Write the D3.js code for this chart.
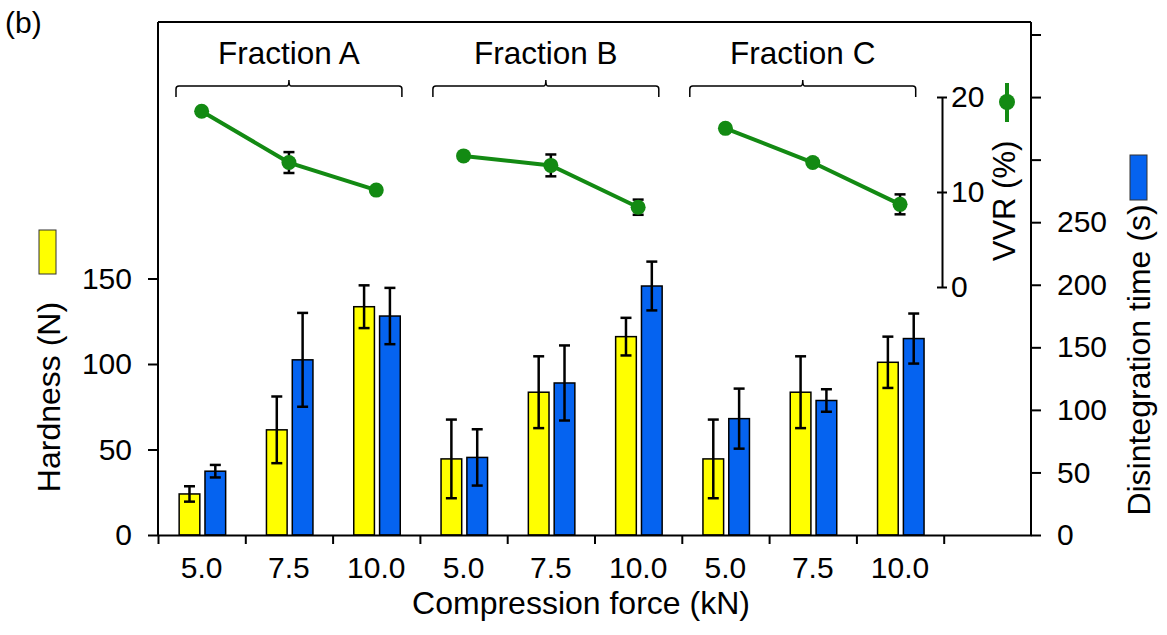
<!DOCTYPE html>
<html>
<head>
<meta charset="utf-8">
<script src="https://cdn.jsdelivr.net/npm/d3@7"></script>
<style>
  body { margin: 0; background: #fff; }
  svg text { font-family: 'Liberation Sans', Arial, sans-serif; fill: #000; }
  .axis path, .axis line { stroke: #000; stroke-width: 2px; }
</style>
</head>
<body>
<div id="chart"></div>
<script>
// data
const forceLabels = ['5.0', '7.5', '10.0', '5.0', '7.5', '10.0', '5.0', '7.5', '10.0'];
const fractions = ['Fraction A', 'Fraction B', 'Fraction C'];
const hardness = [24, 61.5, 133.5, 44.5, 83.5, 116, 44.5, 83.5, 101];
const hardnessErr = [4.5, 19.5, 12.5, 23, 21, 11, 23, 21, 15];
const disintegration = [51, 140, 175, 62, 121.5, 199, 93, 107.5, 157];
const disintegrationErr = [5, 37.5, 22.5, 22.5, 30, 19.5, 24, 9, 20];
const vvr = [18.5, 13.1, 10.2, 13.8, 12.8, 8.4, 16.7, 13.1, 8.7];
const vvrErr = [0.3, 1.1, 0.3, 0.3, 1.15, 0.8, 0.3, 0.3, 1.05];
const hardnessTicks = [0, 50, 100, 150];
const disTicks = [0, 50, 100, 150, 200, 250, 300, 350, 400];
const vvrTicks = [0, 10, 20];

const W = 1167, H = 635;
const plotL = 158, plotR = 1031, plotT = 22, plotB = 535;
const YELLOW = '#ffff00', BLUE = '#0563f0', GREEN = '#138a13';

const svg = d3.select('#chart').append('svg')
  .attr('width', W).attr('height', H);

// 9 categories + one empty slot at the end
const x = d3.scaleBand().domain(d3.range(10)).range([plotL, plotR]);
const xEdge = d3.scaleLinear().domain([0, 10]).range([plotL, plotR]);
const sub = d3.scaleBand().domain(['h', 'd']).range([-22.5, 24]).paddingInner(0.2);
const yL = d3.scaleLinear().domain([0, 300]).range([plotB, plotT]);
const yR = d3.scaleLinear().domain([0, 410]).range([plotB, plotT]);
const yV = d3.scaleLinear().domain([0, 20]).range([287, 97]);
const cx = i => x(i) + x.bandwidth() / 2;

// frame top
svg.append('line').attr('x1', plotL).attr('x2', plotR).attr('y1', plotT).attr('y2', plotT)
  .attr('stroke', '#000').attr('stroke-width', 2);

// bars
const bars = svg.append('g');
forceLabels.forEach((_, i) => {
  bars.append('rect')
    .attr('x', cx(i) + sub('h')).attr('width', sub.bandwidth())
    .attr('y', yL(hardness[i])).attr('height', plotB - yL(hardness[i]))
    .attr('fill', YELLOW).attr('stroke', '#000').attr('stroke-width', 1.5);
  bars.append('rect')
    .attr('x', cx(i) + sub('d')).attr('width', sub.bandwidth())
    .attr('y', yR(disintegration[i])).attr('height', plotB - yR(disintegration[i]))
    .attr('fill', BLUE).attr('stroke', '#000').attr('stroke-width', 1.5);
});

// error bars
function errBar(g, xc, y1, y2, cap, color, w) {
  g.append('line').attr('x1', xc).attr('x2', xc).attr('y1', y1).attr('y2', y2)
    .attr('stroke', color).attr('stroke-width', w);
  [y1, y2].forEach(yy => g.append('line')
    .attr('x1', xc - cap).attr('x2', xc + cap).attr('y1', yy).attr('y2', yy)
    .attr('stroke', color).attr('stroke-width', w));
}
const errs = svg.append('g');
forceLabels.forEach((_, i) => {
  const xh = cx(i) + sub('h') + sub.bandwidth() / 2;
  const xd = cx(i) + sub('d') + sub.bandwidth() / 2;
  errBar(errs, xh, yL(hardness[i] + hardnessErr[i]), yL(hardness[i] - hardnessErr[i]), 5.5, '#000', 2.5);
  errBar(errs, xd, yR(disintegration[i] + disintegrationErr[i]), yR(disintegration[i] - disintegrationErr[i]), 5.5, '#000', 2.5);
});

// left axis
const axL = svg.append('g').attr('class', 'axis')
  .attr('transform', `translate(${plotL},0)`)
  .call(d3.axisLeft(yL).tickValues(hardnessTicks).tickSize(10).tickPadding(16).tickSizeOuter(0));
axL.select('.domain').attr('d', `M0,${plotB}V${plotT}`);
axL.selectAll('text').style('font-size', '30px');

// right axis
const axR = svg.append('g').attr('class', 'axis')
  .attr('transform', `translate(${plotR},0)`)
  .call(d3.axisRight(yR).tickValues(disTicks).tickSize(10).tickPadding(16).tickSizeOuter(0)
    .tickFormat(d => (d <= 250 ? d : '')));
axR.select('.domain').attr('d', `M0,${plotB}V${plotT}`);
axR.selectAll('text').style('font-size', '30px');
axR.selectAll('.tick line').filter(d => d > 250).attr('stroke-width', 1.2);

// bottom axis (ticks at category edges)
const axB = svg.append('g').attr('class', 'axis')
  .attr('transform', `translate(0,${plotB})`)
  .call(d3.axisBottom(xEdge).tickValues(d3.range(11)).tickSize(9).tickFormat('').tickSizeOuter(0));
axB.selectAll('.tick').filter(d => d === 10).remove();

svg.append('g').selectAll('text').data(forceLabels).join('text')
  .attr('x', (d, i) => cx(i)).attr('y', 578)
  .attr('text-anchor', 'middle').style('font-size', '30px')
  .text(d => d);

// VVR axis
const axV = svg.append('g').attr('class', 'axis')
  .attr('transform', 'translate(942,0)')
  .call(d3.axisRight(yV).tickValues(vvrTicks).tickSize(5).tickPadding(4).tickSizeOuter(0));
axV.selectAll('.tick line').attr('x1', -5).attr('stroke-width', 1.5);
axV.select('.domain').attr('stroke-width', 1.5);
axV.selectAll('text').style('font-size', '30px');

// VVR line
const vg = svg.append('g');
fractions.forEach((f, k) => {
  const idx = [3 * k, 3 * k + 1, 3 * k + 2];
  vg.append('path')
    .datum(idx)
    .attr('fill', 'none').attr('stroke', GREEN).attr('stroke-width', 4)
    .attr('d', d3.line().x(i => cx(i)).y(i => yV(vvr[i])));
  idx.forEach(i => {
    errBar(vg, cx(i), yV(vvr[i] + vvrErr[i]), yV(vvr[i] - vvrErr[i]), 5.5, '#000', 2.5);
  });
  idx.forEach(i => {
    vg.append('circle').attr('cx', cx(i)).attr('cy', yV(vvr[i])).attr('r', 7.5).attr('fill', GREEN);
  });
});

// fraction brackets
fractions.forEach((f, k) => {
  const x0 = x(3 * k) + 18 - 5 * k;
  const x1 = x(3 * k + 2) + x.bandwidth() - 18 - 5 * k;
  const xm = (x0 + x1) / 2;
  const yb = 86, r = 3;
  svg.append('path')
    .attr('fill', 'none').attr('stroke', '#000').attr('stroke-width', 1.5)
    .attr('d', `M${x0},97V${yb + r}Q${x0},${yb} ${x0 + r},${yb}H${xm - 2}Q${xm},${yb} ${xm},${yb - 6}` +
      `Q${xm},${yb} ${xm + 2},${yb}H${x1 - r}Q${x1},${yb} ${x1},${yb + r}V97`);
  svg.append('text').attr('x', xm).attr('y', 64)
    .attr('text-anchor', 'middle').style('font-size', '31.5px').text(f);
});

// axis titles
svg.append('text').attr('transform', 'translate(60,397) rotate(-90)')
  .attr('text-anchor', 'middle').style('font-size', '32px').text('Hardness (N)');
svg.append('text').attr('transform', 'translate(1150,360) rotate(-90)')
  .attr('text-anchor', 'middle').style('font-size', '32px').text('Disintegration time (s)');
svg.append('text').attr('transform', 'translate(1015,201) rotate(-90)')
  .attr('text-anchor', 'middle').style('font-size', '31px').text('VVR (%)');
svg.append('text').attr('x', 581).attr('y', 614)
  .attr('text-anchor', 'middle').style('font-size', '32px').text('Compression force (kN)');
svg.append('text').attr('x', 5).attr('y', 33).style('font-size', '30px').text('(b)');

// legend keys
svg.append('rect').attr('x', 39).attr('y', 230).attr('width', 17).attr('height', 44)
  .attr('fill', YELLOW).attr('stroke', '#333').attr('stroke-width', 1);
svg.append('rect').attr('x', 1130).attr('y', 155).attr('width', 17).attr('height', 45)
  .attr('fill', BLUE).attr('stroke', '#333').attr('stroke-width', 1);
svg.append('line').attr('x1', 1007).attr('x2', 1007).attr('y1', 83).attr('y2', 122)
  .attr('stroke', GREEN).attr('stroke-width', 4);
svg.append('circle').attr('cx', 1007).attr('cy', 102).attr('r', 8).attr('fill', GREEN);
</script>
</body>
</html>
